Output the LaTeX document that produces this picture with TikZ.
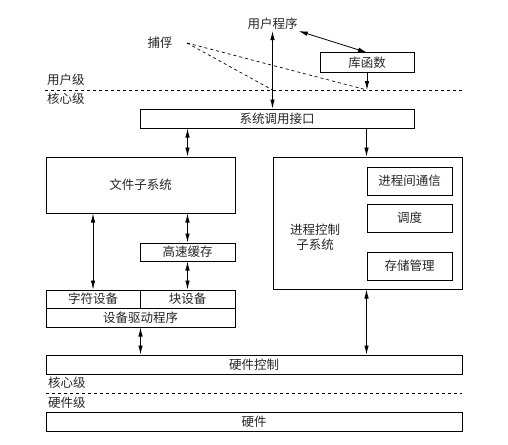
\documentclass[tikz,border=0pt]{standalone}
\usepackage{fontspec}
\setmainfont{Noto Sans CJK SC}
\usetikzlibrary{arrows.meta, calc}

\begin{document}
\begin{tikzpicture}[x=1pt, y=-1pt, >={Latex[length=9pt,width=4.5pt]},
		font=\fontsize{12.5}{14.5}\selectfont,
		box/.style={draw, line width=1pt, inner sep=0pt, text=black!85},
		lbl/.style={inner sep=1pt, text=black!85},
		link/.style={<->, line width=0.8pt},
		trapline/.style={dashed, line width=0.7pt}]
		
		% --- 1. Canvas ---
		\useasboundingbox (0,0) rectangle (508,444);
		
		% --- 2. User level ---
		\node[lbl] (user) at (272.5,24) {用户程序};
		\node[lbl] (trap) at (160,43) {捕俘};
		\node[box, minimum width=94pt, minimum height=19pt] (lib) at (367,62.5) {库函数};
		
		% --- 3. Level separators ---
		\coordinate (ulineL) at (45,90);
		\coordinate (ulineR) at (462,90);
		\coordinate (hlineL) at (46,393);
		\coordinate (hlineR) at (462,393);
		\draw[dashed, line width=0.7pt] (ulineL) -- (ulineR);
		\draw[dashed, line width=0.7pt] (hlineL) -- (hlineR);
		\node[lbl, anchor=west] (lvuser) at (46,80) {用户级};
		\node[lbl, anchor=west] (lvcore) at (46,99) {核心级};
		\node[lbl, anchor=west] (lvcore2) at (47,383) {核心级};
		\node[lbl, anchor=west] (lvhw) at (47,403) {硬件级};
		
		% --- 4. Kernel boxes ---
		\node[box, minimum width=274pt, minimum height=19pt] (syscall) at (277,118.5) {系统调用接口};
		\node[box, minimum width=189pt, minimum height=56pt] (file) at (140.5,185) {文件子系统};
		\node[box, minimum width=95pt, minimum height=18pt] (cache) at (187.5,252) {高速缓存};
		\node[box, minimum width=94pt, minimum height=18pt] (chardev) at (93,299) {字符设备};
		\node[box, minimum width=95pt, minimum height=18pt] (blockdev) at (187.5,299) {块设备};
		\node[box, minimum width=189pt, minimum height=19pt] (driver) at (140.5,317.5) {设备驱动程序};
		
		\node[box, minimum width=189pt, minimum height=132pt] (proc) at (367.5,223) {};
		\node[lbl, align=center] (proclbl) at (315,237) {进程控制\\子系统};
		\foreach \name/\y/\txt in {ipc/181/进程间通信, sched/218/调度, mem/266/存储管理} {
			\node[box, minimum width=85pt, minimum height=28pt] (\name) at (409.5,\y) {\txt};
		}
		
		\node[box, minimum width=416pt, minimum height=19pt] (hwctl) at (254,364.5) {硬件控制};
		\node[box, minimum width=416pt, minimum height=19pt] (hw) at (254,421.5) {硬件};
		
		% --- 5. Trap lines ---
		\coordinate (trapend) at (187,43);
		\draw[trapline] (trapend) -- (user.south |- ulineL);
		\draw[trapline] (trapend) -- (lib.south |- ulineL);
		
		% --- 6. Connectors ---
		\draw[link] (user.south east) -- (lib.north);
		\draw[link] (user.south) -- (user.south |- syscall.north);
		\draw[->, line width=0.8pt] (lib.south) -- (lib.south |- ulineL);
		\draw[link] (cache.north |- syscall.south) -- (cache.north |- file.north);
		\draw[->, line width=0.8pt] (ipc.west |- syscall.south) -- (ipc.west |- proc.north);
		\draw[link] (chardev.north |- file.south) -- (chardev.north);
		\draw[link] (cache.north |- file.south) -- (cache.north);
		\draw[link] (cache.south) -- (blockdev.north);
		\draw[link] (driver.south) -- (driver.south |- hwctl.north);
		\draw[link] (ipc.west |- proc.south) -- (ipc.west |- hwctl.north);
		
	\end{tikzpicture}
\end{document}
